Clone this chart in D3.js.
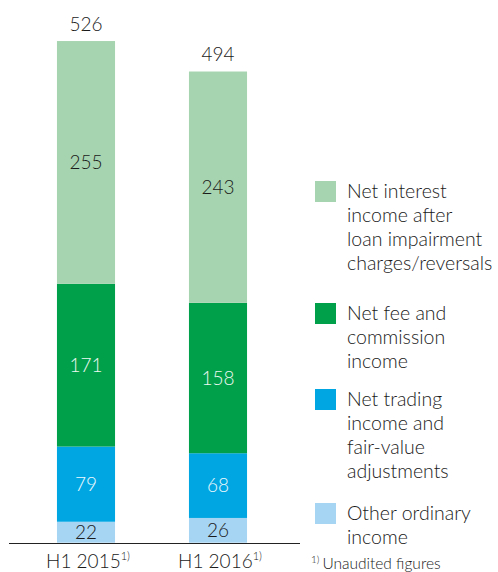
<!DOCTYPE html>
<html>
<head>
<meta charset="utf-8">
<script src="https://cdn.jsdelivr.net/npm/d3@7"></script>
<style>
  body { margin: 0; background: #fff; }
  svg text { font-family: Lato, "Open Sans", sans-serif; font-weight: 300; }
</style>
</head>
<body>
<div id="main"></div>
<script>
const periods = ['H1 2015', 'H1 2016'];
const seriesNames = ['other', 'trading', 'fee', 'interest'];
const otherIncome = [22, 26];
const tradingIncome = [79, 68];
const feeIncome = [171, 158];
const interestIncome = [255, 243];
const totals = [526, 494];

const colors = { interest: '#a7d4b0', fee: '#00a04b', trading: '#00a6e2', other: '#a6d5f3' };
const labelColors = { interest: '#1a1a1a', fee: '#eef8f1', trading: '#eef9fe', other: '#1a1a1a' };

const legendItems = [
    { key: 'interest', lines: ['Net interest', 'income after', 'loan impairment', 'charges/reversals'] },
    { key: 'fee', lines: ['Net fee and', 'commission', 'income'] },
    { key: 'trading', lines: ['Net trading', 'income and', 'fair-value', 'adjustments'] },
    { key: 'other', lines: ['Other ordinary', 'income'] }
];

const W = 498, H = 572;
const rows = periods.map((p, i) => ({
    period: p,
    other: otherIncome[i], trading: tradingIncome[i], fee: feeIncome[i], interest: interestIncome[i],
    total: totals[i]
}));

const svg = d3.select('#main').append('svg').attr('width', W).attr('height', H);

const x = d3.scaleBand().domain(periods).range([20, 284]).paddingInner(0.56).paddingOuter(0.28);
const y = d3.scaleLinear().domain([0, 526]).range([542.7, 42]);

const stack = d3.stack().keys(seriesNames)(rows);

const layers = svg.selectAll('g.layer')
    .data(stack)
    .enter()
    .append('g')
    .attr('class', 'layer')
    .attr('fill', d => colors[d.key]);

layers.selectAll('rect')
    .data(d => d.map(v => Object.assign(v, { key: d.key })))
    .enter()
    .append('rect')
    .attr('x', d => x(d.data.period))
    .attr('y', d => y(d[1]))
    .attr('width', x.bandwidth())
    .attr('height', d => y(d[0]) - y(d[1]));

layers.selectAll('text')
    .data(d => d)
    .enter()
    .append('text')
    .attr('x', d => x(d.data.period) + x.bandwidth() / 2)
    .attr('y', d => (y(d[0]) + y(d[1])) / 2 + 6.5)
    .attr('text-anchor', 'middle')
    .attr('font-size', 19)
    .attr('fill', d => labelColors[d.key])
    .text(d => d[1] - d[0]);

// totals on top
svg.selectAll('text.total')
    .data(rows)
    .enter()
    .append('text')
    .attr('class', 'total')
    .attr('x', d => x(d.period) + x.bandwidth() / 2)
    .attr('y', d => y(d.total) - 11)
    .attr('text-anchor', 'middle')
    .attr('font-size', 19)
    .attr('fill', '#1a1a1a')
    .text(d => d.total);

// baseline
svg.append('line')
    .attr('x1', 9).attr('x2', 300)
    .attr('y1', 543.5).attr('y2', 543.5)
    .attr('stroke', '#222').attr('stroke-width', 1);

// x labels
const xl = svg.selectAll('text.xlab')
    .data(periods)
    .enter()
    .append('text')
    .attr('class', 'xlab')
    .attr('x', d => x(d) + x.bandwidth() / 2 + 2)
    .attr('y', 568)
    .attr('text-anchor', 'middle')
    .attr('font-size', 19)
    .attr('fill', '#1a1a1a');
xl.append('tspan').text(d => d);
xl.append('tspan').attr('font-size', 11).attr('dy', -8).text('1)');

// legend
const legTops = [181, 303, 389, 503];
const lg = svg.append('g').attr('id', 'legend')
    .selectAll('g')
    .data(legendItems)
    .enter()
    .append('g')
    .attr('transform', (d, i) => 'translate(315,' + legTops[i] + ')');

lg.append('rect')
    .attr('width', 21).attr('height', 21)
    .attr('fill', d => colors[d.key]);

lg.selectAll('text')
    .data(d => d.lines)
    .enter()
    .append('text')
    .attr('x', 32)
    .attr('y', (d, i) => 17 + i * 24)
    .attr('font-size', 19.5)
    .attr('fill', '#1a1a1a')
    .text(d => d);

// footnote
const fn = svg.append('text')
    .attr('x', 311).attr('y', 569)
    .attr('font-size', 15.5)
    .attr('fill', '#1a1a1a');
fn.append('tspan').attr('font-size', 10).attr('dy', -6).text('1)');
fn.append('tspan').attr('dy', 6).attr('dx', 3).text('Unaudited figures');
</script>
</body>
</html>
